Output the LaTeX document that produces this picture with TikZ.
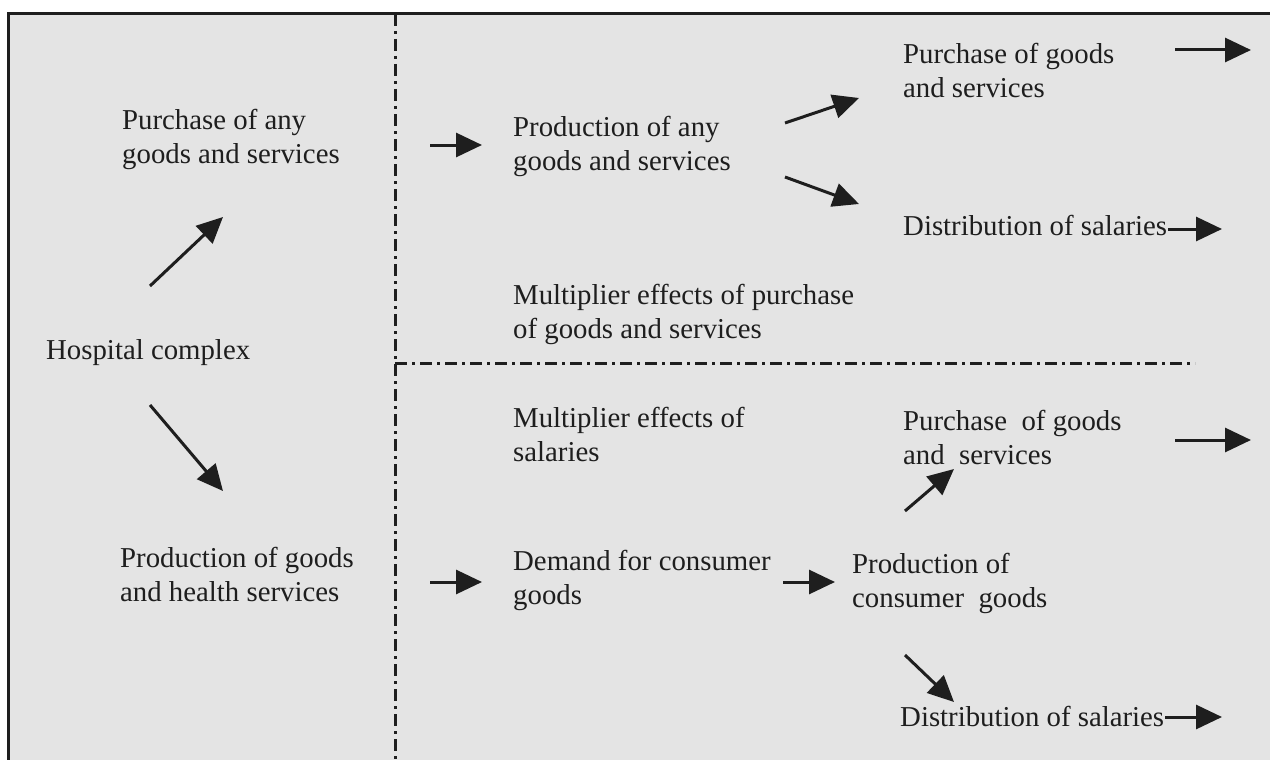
\documentclass[tikz,border=0pt]{standalone}
\usepackage{fontspec}
\setmainfont{Liberation Serif}
\usetikzlibrary{arrows.meta}
\definecolor{bggray}{RGB}{228,228,228}
\definecolor{ink}{RGB}{30,30,30}
\tikzset{
  lbl/.style={anchor=west, align=left, inner sep=0pt, text=ink,
    font=\fontsize{28.8pt}{34pt}\selectfont},
  arr/.style={draw=ink, line width=3pt, -{Triangle[length=26pt,width=24pt]}},
  divider/.style={draw=ink, line width=3pt, dash pattern=on 12pt off 5pt on 3pt off 5pt}
}
\begin{document}
\begin{tikzpicture}[x=1pt,y=-1pt]
\useasboundingbox (0,0) rectangle (1270,760);
\fill[white] (0,0) rectangle (1270,760);
\fill[bggray] (8,14) rectangle (1272,762);
\draw[ink, line width=3pt] (8,762) -- (8,14) -- (1272,14);
% dividers
\coordinate (vtop) at (395,14);
\coordinate (vbot) at (395,762);
\coordinate (hl) at (395,363);
\coordinate (hr) at (1195,363);
\draw[divider] (vtop) -- (vbot);
\draw[divider] (hl) -- (hr);
% labels
\node[lbl] (pany) at (122,139) {Purchase of any\\goods and services};
\node[lbl] (hosp) at (46,353) {Hospital complex};
\node[lbl] (phealth) at (120,574) {Production of goods\\and health services};
\node[lbl] (prodany) at (513,146) {Production of any\\goods and services};
\node[lbl] (pgs1) at (903,71) {Purchase of goods\\and services};
\node[lbl] (dist1) at (903,225) {Distribution of salaries};
\node[lbl] (mult1) at (513,314) {Multiplier effects of purchase\\of goods and services};
\node[lbl] (mult2) at (513,434) {Multiplier effects of\\salaries};
\node[lbl] (pgs2) at (903,437) {Purchase\ \ of goods\\and\ \ services};
\node[lbl] (demand) at (513,580) {Demand for consumer\\goods};
\node[lbl] (pcons) at (852,583) {Production of\\consumer\ \ goods};
\node[lbl] (dist2) at (900,716) {Distribution of salaries};
% arrow end points
\coordinate (a1s) at (150,286); \coordinate (a1e) at (223,217);
\coordinate (a2s) at (150,405); \coordinate (a2e) at (223,491);
\coordinate (a3s) at (430,145); \coordinate (a3e) at (482,145);
\coordinate (a4s) at (785,123); \coordinate (a4e) at (859,98);
\coordinate (a5s) at (785,177); \coordinate (a5e) at (859,204);
\coordinate (a6s) at (1175,50); \coordinate (a6e) at (1251,50);
\coordinate (a7e) at (1222,229);
\coordinate (a8s) at (430,582); \coordinate (a8e) at (482,582);
\coordinate (a9s) at (783,582); \coordinate (a9e) at (835,582);
\coordinate (a10s) at (905,511); \coordinate (a10e) at (954,469);
\coordinate (a11s) at (905,655); \coordinate (a11e) at (954,702);
\coordinate (a12s) at (1175,440); \coordinate (a12e) at (1251,440);
\coordinate (a13e) at (1222,717);
\draw[arr] (a1s) -- (a1e);
\draw[arr] (a2s) -- (a2e);
\draw[arr] (a3s) -- (a3e);
\draw[arr] (a4s) -- (a4e);
\draw[arr] (a5s) -- (a5e);
\draw[arr] (a6s) -- (a6e);
\draw[arr] (dist1.east |- a7e) ++(1,0) -- (a7e);
\draw[arr] (a8s) -- (a8e);
\draw[arr] (a9s) -- (a9e);
\draw[arr] (a10s) -- (a10e);
\draw[arr] (a11s) -- (a11e);
\draw[arr] (a12s) -- (a12e);
\draw[arr] (dist2.east |- a13e) ++(1,0) -- (a13e);
\end{tikzpicture}
\end{document}
